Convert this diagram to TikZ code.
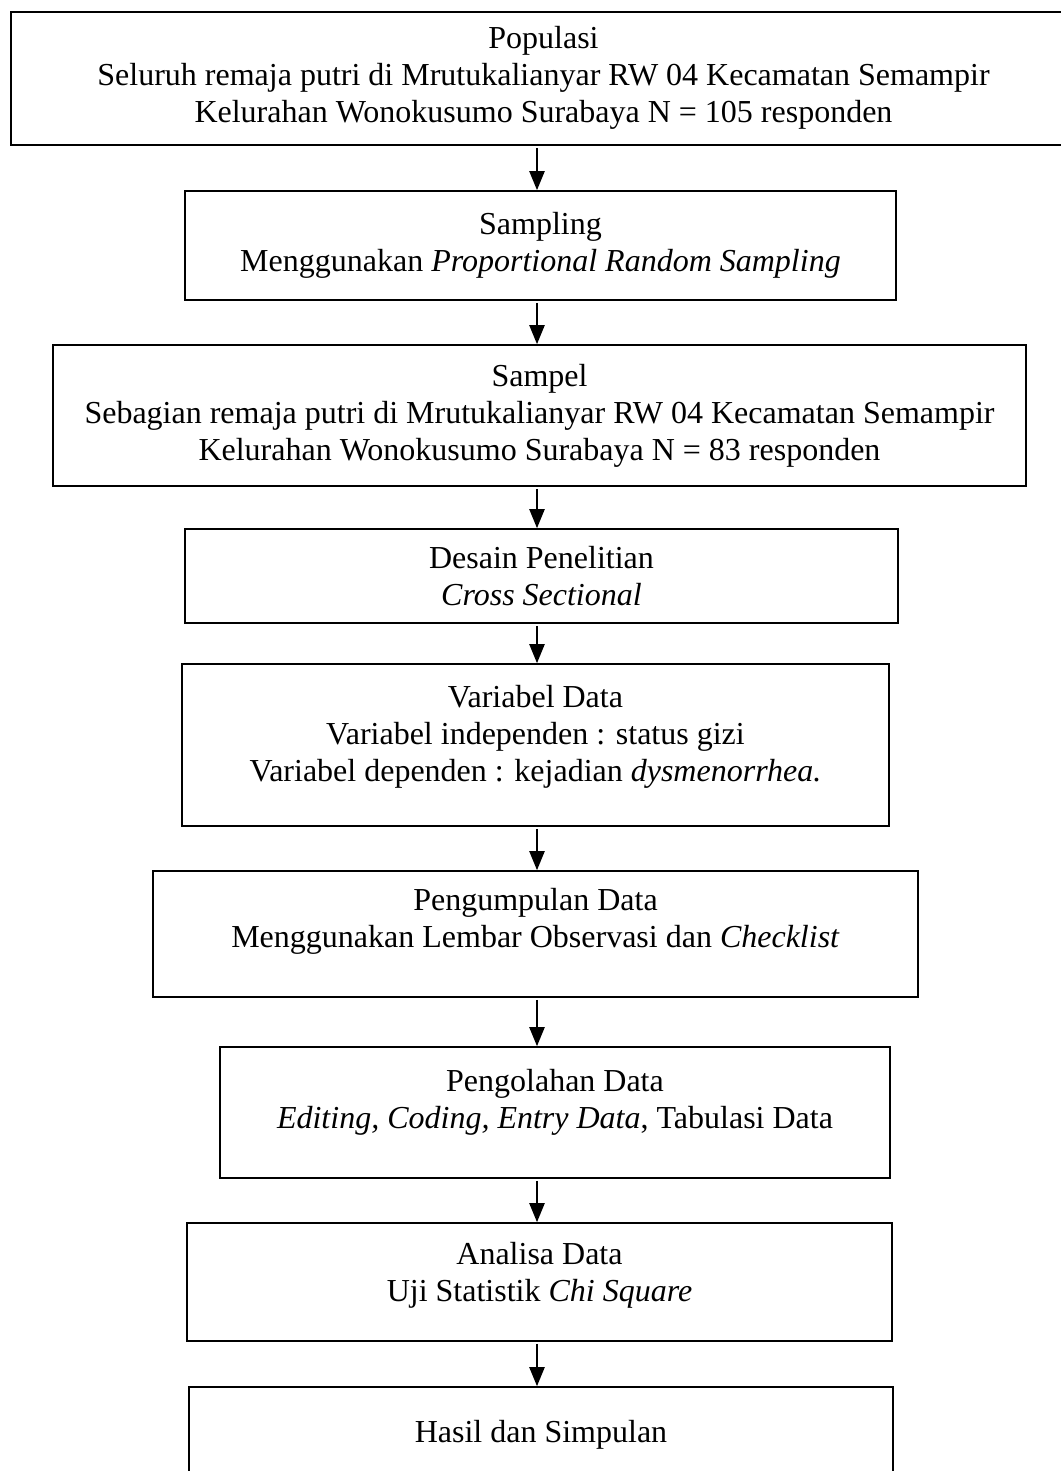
\documentclass[tikz,border=0pt]{standalone}
\usepackage{fontspec}
\setmainfont{Liberation Serif}
\usepackage{tikz}
\usetikzlibrary{arrows.meta}

\begin{document}
\begin{tikzpicture}[x=1pt,y=-1pt,
    box/.style={draw,line width=1.6pt,align=center,inner sep=0pt,
      font=\fontsize{32}{37}\selectfont},
    flow/.style={line width=2.2pt,-{Triangle[length=19pt,width=15pt]},shorten <=2pt}]
            \useasboundingbox (0,0) rectangle (1060,1471);
            \coordinate (ax) at (537,0);

            % first box runs past the right edge, its text stays centred on the page
            \node[box,align=none,minimum width=1090pt,minimum height=133pt] (pop) at (556,78.5)
              {\begin{tabular}{@{}c@{}}Populasi\\Seluruh remaja putri di Mrutukalianyar RW 04 Kecamatan Semampir\\
               Kelurahan Wonokusumo Surabaya N = 105 responden\end{tabular}\hspace*{25pt}};
            \node[box,minimum width=711pt,minimum height=109pt] (smp) at (540.5,245.5)
              {Sampling\\Menggunakan \textit{Proportional Random Sampling}};
            \node[box,minimum width=973pt,minimum height=141pt] (spl) at (539.5,415.5)
              {Sampel\\Sebagian remaja putri di Mrutukalianyar RW 04 Kecamatan Semampir\\
               Kelurahan Wonokusumo Surabaya N = 83 responden};
            \node[box,minimum width=713pt,minimum height=94pt] (dsn) at (541.5,576)
              {Desain Penelitian\\\textit{Cross Sectional}};
            \node[box,minimum width=707pt,minimum height=162pt] (var) at (535.5,745)
              {Variabel Data\\Variabel independen : status gizi\\
               Variabel dependen : kejadian \textit{dysmenorrhea.}\rule[-24pt]{0pt}{0pt}};
            \node[box,minimum width=765pt,minimum height=126pt] (kmp) at (535.5,934)
              {Pengumpulan Data\\Menggunakan Lembar Observasi dan \textit{Checklist}\rule[-32pt]{0pt}{0pt}};
            \node[box,minimum width=670pt,minimum height=131pt] (olh) at (555,1112.5)
              {Pengolahan Data\\\textit{Editing, Coding, Entry Data}, Tabulasi Data\rule[-28pt]{0pt}{0pt}};
            \node[box,minimum width=705pt,minimum height=118pt] (ana) at (539.5,1282)
              {Analisa Data\\Uji Statistik \textit{Chi Square}\rule[-20pt]{0pt}{0pt}};
            \node[box,minimum width=704pt,minimum height=140pt] (hsl) at (541,1457)
              {Hasil dan Simpulan\rule[-52pt]{0pt}{0pt}};

            \draw[flow] (pop.south -| ax) -- (smp.north -| ax);
            \draw[flow] (smp.south -| ax) -- (spl.north -| ax);
            \draw[flow] (spl.south -| ax) -- (dsn.north -| ax);
            \draw[flow] (dsn.south -| ax) -- (var.north -| ax);
            \draw[flow] (var.south -| ax) -- (kmp.north -| ax);
            \draw[flow] (kmp.south -| ax) -- (olh.north -| ax);
            \draw[flow] (olh.south -| ax) -- (ana.north -| ax);
            \draw[flow] (ana.south -| ax) -- (hsl.north -| ax);

        \end{tikzpicture}
\end{document}
